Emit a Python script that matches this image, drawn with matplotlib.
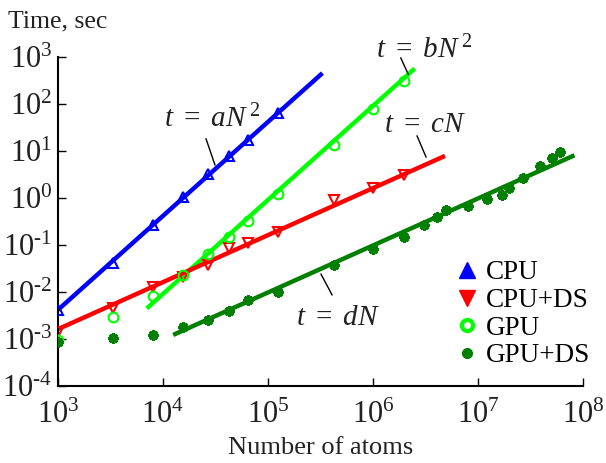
import numpy as np
import matplotlib
matplotlib.use("Agg")
import matplotlib.pyplot as plt
from matplotlib.lines import Line2D
from matplotlib.ticker import FuncFormatter

plt.rcParams['font.family'] = ['Liberation Serif', 'DejaVu Serif']
plt.rcParams['mathtext.fontset'] = 'custom'
plt.rcParams['mathtext.rm'] = 'Liberation Serif'
plt.rcParams['mathtext.it'] = 'Liberation Serif:italic'

# measured run times (seconds) vs number of atoms
n_cpu = [1000, 3375, 8000, 15625, 27000, 42875, 64000, 125000]
t_cpu = [4.1e-3, 0.041, 0.27, 1.05, 3.2, 7.8, 17, 65]

n_cpu_ds = [1000, 3375, 8000, 15625, 27000, 42875, 64000, 125000, 421875, 1000000, 1953125]
t_cpu_ds = [1.4e-3, 4.6e-3, 0.013, 0.021, 0.037, 0.087, 0.11, 0.19, 0.9, 1.6, 3.1]

n_gpu = [1000, 3375, 8000, 15625, 27000, 42875, 64000, 125000, 421875, 1000000, 1953125]
t_gpu = [9.5e-4, 2.9e-3, 8.2e-3, 0.023, 0.065, 0.15, 0.32, 1.2, 13.5, 77, 306]

n_gpu_ds = [1000, 3375, 8000, 15625, 27000, 42875, 64000, 125000, 421875, 1000000,
            1953125, 3048625, 4096000, 4913000, 8000000, 12167000, 17000000, 19683000,
            27000000, 39304000, 50653000, 60000000]
t_gpu_ds = [8.7e-4, 1.05e-3, 1.2e-3, 1.8e-3, 2.5e-3, 4.0e-3, 6.7e-3, 0.010, 0.037, 0.082,
            0.148, 0.27, 0.40, 0.56, 0.68, 0.95, 1.16, 1.63, 2.7, 4.8, 7.1, 9.6]

# fitted scaling laws t = k * N^p, drawn over [n_lo, n_hi]
fit_k = [10**-8.38, 10**-10.04, 10**-5.79, 10**-7.01]
fit_p = [2, 2, 1, 1]
fit_lo = [1e3, 7.0e3, 1e3, 1.25e4]
fit_hi = [3.3e5, 2.5e6, 4.85e6, 8.3e7]

c_blue, c_red, c_lime, c_dk = '#0000ff', '#ff0000', '#00ff00', '#007f00'
fit_colors = [c_blue, c_lime, c_red, c_dk]

fig = plt.figure(figsize=(6.06, 4.63), dpi=100)
ax = fig.add_axes([0.0957, 0.1663, 0.8663, 0.7106])

for k, p, lo, hi, c in zip(fit_k, fit_p, fit_lo, fit_hi, fit_colors):
    nn = np.array([lo, hi])
    ax.plot(nn, k * nn**p, color=c, lw=3.2, solid_capstyle='butt', zorder=2)

ax.plot(n_cpu, t_cpu, ls='none', marker='^', ms=7, mfc='none', mec=c_blue, mew=1.5, zorder=3)
ax.plot(n_cpu_ds, t_cpu_ds, ls='none', marker='v', ms=7, mfc='none', mec=c_red, mew=1.5, zorder=3)
ax.plot(n_gpu, t_gpu, ls='none', marker='o', ms=7, mfc='none', mec=c_lime, mew=1.5, zorder=3)
ax.plot(n_gpu_ds, t_gpu_ds, ls='none', marker=(8, 2, 0), ms=7.5, mec=c_dk, mew=2.0, zorder=3)


def dec_label(v, pos):
    e = int(round(np.log10(v)))
    if e < 0:
        return r'$10^{\text{-}%d}$' % (-e)
    return r'$10^{%d}$' % e


ax.set_xscale('log')
ax.set_yscale('log')
ax.set_xlim(1e3, 1e8)
ax.set_ylim(1e-4, 1e3)
ax.set_xticks([1e3, 1e4, 1e5, 1e6, 1e7, 1e8])
ax.set_yticks([1e-4, 1e-3, 1e-2, 1e-1, 1e0, 1e1, 1e2, 1e3])
ax.xaxis.set_major_formatter(FuncFormatter(dec_label))
ax.yaxis.set_major_formatter(FuncFormatter(dec_label))
ax.spines['top'].set_visible(False)
ax.spines['right'].set_visible(False)
ax.spines['left'].set_linewidth(1.5)
ax.spines['bottom'].set_linewidth(1.5)
ax.tick_params(which='both', direction='in', labelsize=22, width=1, colors='black',
               labelcolor='#222222')
ax.tick_params(which='major', length=6)
ax.tick_params(which='minor', length=3)
ax.tick_params(axis='x', which='major', pad=11)
ax.tick_params(axis='y', which='major', pad=4)
ax.set_xlabel('Number of atoms', fontsize=19, color='#222222', labelpad=5)
fig.text(0.013, 0.94, 'Time, sec', fontsize=18.5, color='#222222')

# fit labels with leader lines (axes fraction coordinates)
labels = [r'$t\ =\ aN^{\,2}$', r'$t\ =\ bN^{\,2}$', r'$t\ =\ cN$', r'$t\ =\ dN$']
lab_xy = [(0.293, 0.787), (0.697, 0.997), (0.699, 0.772), (0.533, 0.185)]
lead = [((0.282, 0.751), (0.299, 0.672)),
        ((0.653, 0.997), (0.667, 0.948)),
        ((0.684, 0.760), (0.701, 0.696)),
        ((0.501, 0.340), (0.522, 0.277))]
for s, (x, y), ((x0, y0), (x1, y1)) in zip(labels, lab_xy, lead):
    ax.text(x, y, s, transform=ax.transAxes, fontsize=21, color='#222222',
            ha='center', va='baseline', clip_on=False)
    ax.plot([x0, x1], [y0, y1], color='black', lw=1, transform=ax.transAxes, clip_on=False)

handles = [
    Line2D([], [], ls='none', marker='^', ms=11, mfc=c_blue, mec=c_blue),
    Line2D([], [], ls='none', marker='v', ms=11, mfc=c_red, mec=c_red),
    Line2D([], [], ls='none', marker='o', ms=8, mfc='white', mec=c_lime, mew=3),
    Line2D([], [], ls='none', marker='o', ms=7, mfc=c_dk, mec=c_dk),
]
ax.legend(handles, ['CPU', 'CPU+DS', 'GPU', 'GPU+DS'], loc='upper left',
          bbox_to_anchor=(0.732, 0.415), frameon=False, fontsize=19.5,
          handlelength=1.0, handletextpad=0.2, labelspacing=0.1, borderaxespad=0)

fig.savefig('out.png', dpi=100)
